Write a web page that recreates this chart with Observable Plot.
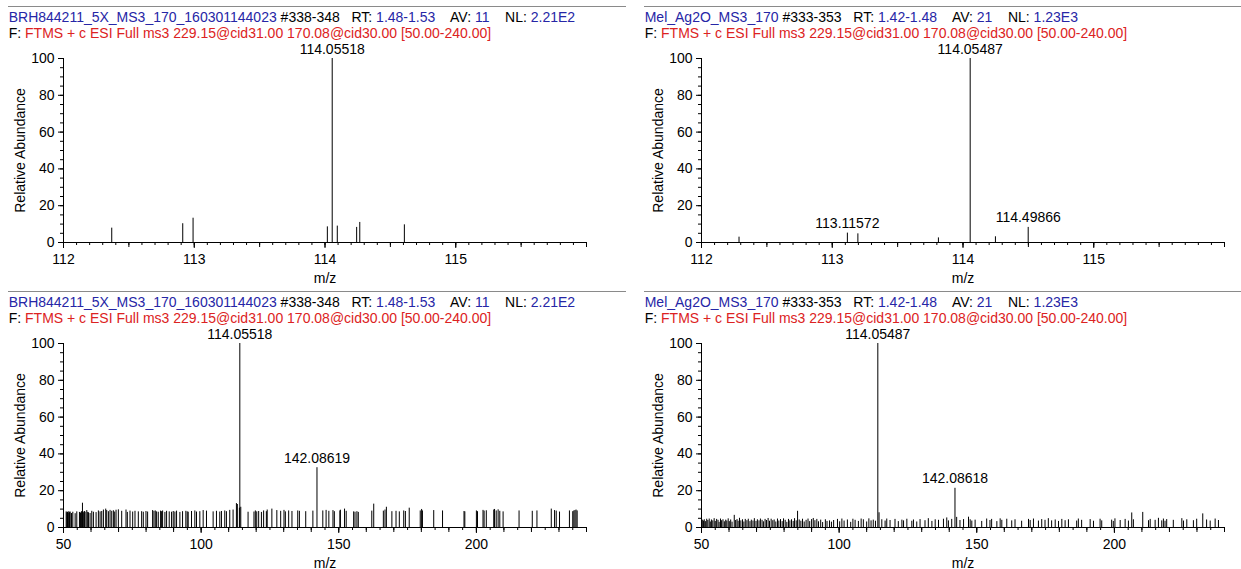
<!DOCTYPE html>
<html><head><meta charset="utf-8">
<script src="https://cdn.jsdelivr.net/npm/d3@7"></script>
<script src="https://cdn.jsdelivr.net/npm/@observablehq/plot@0.6"></script>
<style>
html,body{margin:0;padding:0;background:#fff;}
body{width:1241px;height:569px;overflow:hidden;position:relative;font-family:"Liberation Sans",Arial,sans-serif;}
.sep{position:absolute;height:1px;background:#8a8a8a;}
.hdr{position:absolute;font-size:14px;line-height:16.6px;white-space:pre;color:#000;}
.b{color:#2626a6}.r{color:#dc2222}
.plot{position:absolute;}
</style></head><body>
<script>
// ---------- header texts ----------
const fileNames = ["BRH844211_5X_MS3_170_160301144023", "Mel_Ag2O_MS3_170"];
const scanRanges = ["#338-348", "#333-353"];
const rtRanges = ["1.48-1.53", "1.42-1.48"];
const avCounts = ["11", "21"];
const nlValues = ["2.21E2", "1.23E3"];
const filterText = "FTMS + c ESI Full ms3 229.15@cid31.00 170.08@cid30.00 [50.00-240.00]";

// ---------- axis ticks ----------
const yTicks = [0, 20, 40, 60, 80, 100];
const zoomTicks = [112, 113, 114, 115];
const fullTicks = [50, 100, 150, 200];

// ---------- zoomed spectra (m/z 112-116) ----------
const tlMz = [112.369, 112.912, 112.991, 114.018, 114.05518, 114.094, 114.242, 114.266, 114.607];
const tlAb = [7.8, 10.2, 13.2, 8.5, 100, 8.9, 8.2, 10.9, 9.6];
const tlLabels = [114.05518];

const trMz = [112.287, 113.11572, 113.196, 113.812, 114.05487, 114.248, 114.49866];
const trAb = [2.9, 5.1, 4.7, 2.5, 100, 3.1, 8.2];
const trLabels = [113.11572, 114.05487, 114.49866];

// ---------- full spectra (m/z 50-240) ----------
const blMz = [50.97,51.2,51.45,51.7,51.93,52.2,52.42,52.9,53.38,54.23,54.83,55.8,56.16,56.52,56.89,57.1,57.37,57.6,57.85,58.46,58.8,59.06,59.66,60.27,60.87,61.84,62.68,63.29,63.89,64.5,65.34,65.7,66.31,66.91,67.52,68.12,68.6,69.09,69.93,71.14,72.71,73.19,74.16,75.13,75.97,77.18,78.39,78.99,79.96,80.56,82.37,82.86,83.34,83.82,84.43,85.27,85.64,86.0,86.84,87.45,88.41,89.26,89.86,90.47,91.07,92.28,93.25,94.45,94.94,95.3,96.51,97.72,98.32,99.53,100.74,101.94,104.36,105.57,106.78,107.38,108.59,109.19,110.4,111.61,112.82,113.16,113.9,114.05518,114.4,117.05,119.2,119.7,120.2,120.9,121.9,122.7,123.7,124.0,125.7,127.5,128.9,130.1,130.6,131.8,133.0,135.1,135.7,138.0,140.6,142.08619,144.2,145.4,146.4,147.9,148.4,150.4,150.6,152.1,152.7,155.4,155.9,156.6,157.1,162.0,162.7,166.2,166.8,167.3,169.3,170.8,172.0,173.6,174.2,175.6,179.6,180.1,180.4,184.5,187.7,195.5,195.8,200.0,200.4,202.4,202.8,203.6,206.3,206.6,207.2,207.9,208.5,209.7,215.5,220.3,222.0,227.2,228.4,229.0,230.2,233.8,235.0,235.4,235.8,236.2,236.6];
const blAb = [8.5,8,8.3,7.8,8.6,8.1,8.4,7.6,8.3,7.5,8.5,8.2,7.9,8.6,13.2,8.4,8.0,8.7,8.3,9.2,8.2,8.0,7.6,8.8,8.3,8.1,9.0,8.5,8.7,9.5,10.0,9.2,8.6,9.3,8.8,9.1,8.4,9.4,9.6,8.8,9.5,8.2,8.9,8.4,8.8,8.5,8.6,8.3,8.7,8.4,9.2,8.8,9.0,8.5,8.3,8.9,8.6,9.0,8.2,8.8,8.5,8.3,8.7,8.4,8.9,8.2,8.6,8.8,8.5,8.3,8.7,9.0,8.4,8.6,9.2,8.9,8.5,8.8,8.4,8.7,9.0,8.6,9.3,9.5,13.0,12.5,10.5,100,11.0,8.3,8.4,9.0,8.5,8.7,8.2,9.0,8.6,9.5,10.0,9.2,8.8,9.3,8.5,9.0,8.7,9.0,8.8,8.6,8.9,32.5,9.0,9.3,8.8,9.2,8.6,9.0,9.4,10.0,8.8,8.5,8.3,8.6,8.2,8.9,12.7,8.9,9.5,11.0,8.6,8.8,8.5,9.0,8.7,10.5,9.0,9.8,9.0,9.2,9.0,8.7,8.5,9.0,8.6,9.3,8.9,9.1,9.5,9.8,9.0,9.6,8.8,8.5,9.0,8.8,9.0,10.0,9.2,8.9,8.4,9.0,8.6,9.0,9.2,9.5,9.0];
const blLabels = [114.05518, 142.08619];

const brMz = [50.3,50.7,51.0,51.4,51.9,52.3,52.8,53.2,53.6,54.1,54.6,55.0,55.5,56.0,56.4,56.9,57.3,57.8,58.3,58.8,59.2,59.7,60.1,60.6,61.1,61.9,62.4,62.9,63.3,63.8,64.3,64.9,65.4,65.9,66.5,67.0,67.6,68.1,68.7,69.2,69.8,70.3,70.9,71.4,72.0,72.5,73.1,73.6,74.2,74.7,75.3,75.9,76.4,77.0,77.6,78.1,78.7,79.3,79.8,80.4,81.0,81.6,82.1,82.7,83.3,83.8,84.4,84.9,85.5,86.1,86.7,87.3,88.0,88.7,89.3,90.0,90.6,91.2,91.9,92.5,93.3,94.0,95.0,95.6,96.5,97.2,98.0,99.4,100.2,101.0,101.8,103.0,104.2,105.0,105.8,107.0,108.0,108.8,110.0,110.8,111.6,112.4,113.2,114.05487,114.5,115.5,116.7,117.3,118.5,120.3,121.5,122.8,123.4,124.6,126.4,127.0,128.2,129.4,131.2,132.4,133.7,134.9,136.1,137.9,139.1,139.7,140.9,142.08618,142.7,143.9,145.2,147.0,147.6,148.2,149.4,151.8,153.6,154.8,155.4,157.3,158.5,159.1,160.9,162.7,163.9,166.3,168.8,169.4,170.6,172.4,173.6,174.8,176.0,177.2,178.5,179.7,180.9,182.1,183.3,186.3,186.9,188.1,191.2,192.4,194.8,195.4,199.0,199.6,200.2,202.1,203.9,205.1,206.3,206.9,210.3,212.4,213.0,214.8,216.0,217.2,217.8,218.4,219.0,221.4,224.5,225.1,226.3,228.7,229.9,232.1,233.5,234.8,236.6,237.8];
const brAb = [4,3.5,4.2,3.2,4.5,3.8,4.6,3,4.1,3.6,4.8,3.3,4.4,3.9,2.8,4.6,3.7,4.2,3.1,4.0,3.5,4.7,3.2,4.1,2.9,6.6,3.8,4.3,3.4,5.0,3.6,4.2,3.0,4.4,3.7,4.5,3.2,4.0,3.5,4.8,3.3,4.2,3.6,4.6,3.9,3.1,4.4,3.8,4.9,3.4,4.5,3.7,4.1,3.0,4.6,3.5,4.3,3.2,4.7,3.9,2.8,4.4,3.6,4.2,3.3,4.8,3.6,8.8,4.1,3.4,4.5,3.0,3.9,4.6,3.2,4.3,4.9,3.7,4.4,3.1,4.0,2.7,4.2,3.3,3.6,2.9,3.8,4.4,3.1,4.6,3.5,4.1,2.8,4.5,3.9,3.3,4.6,4.2,3.0,4.7,3.6,4.0,3.4,100,8.0,4.2,3.5,4.6,3.8,4.4,3.2,4.0,3.6,4.5,3.4,4.1,3.0,4.3,3.7,4.8,3.3,4.2,3.9,4.5,5.2,3.6,4.4,21.3,5.5,3.8,4.3,5.6,4.2,3.5,4.0,3.3,4.6,3.8,4.4,3.2,4.7,3.9,4.5,3.6,4.2,3.4,4.4,3.8,4.6,3.5,4.3,3.9,4.8,3.6,4.1,3.3,4.4,3.7,4.2,3.5,4.6,3.9,4.3,3.4,4.5,3.6,4.0,3.3,4.7,3.8,4.4,3.5,7.9,4.2,8.2,3.7,4.4,3.9,5.0,3.6,4.6,3.4,4.3,3.9,4.8,3.5,4.2,3.7,4.5,7.4,4.1,3.5,4.6,3.8];
const brLabels = [114.05487, 142.08618];

// ---------- drawing ----------
const FONT = "'Liberation Sans', Arial, sans-serif";

function header(left, top, i) {
  const sep = document.createElement("div");
  sep.className = "sep";
  sep.style.left = (left + 8) + "px";
  sep.style.top = (top + 6) + "px";
  sep.style.width = "618px";
  document.body.appendChild(sep);
  const h = document.createElement("div");
  h.className = "hdr";
  h.style.left = (left + 8.7) + "px";
  h.style.top = (top + 8.8) + "px";
  h.innerHTML =
    `<span class="b">${fileNames[i]}</span> ${scanRanges[i]}   RT: <span class="b">${rtRanges[i]}</span>    AV: <span class="b">${avCounts[i]}</span>    NL: <span class="b">${nlValues[i]}</span>\n` +
    `F: <span class="r">${filterText}</span>`;
  document.body.appendChild(h);
}

function spectrum(left, top, mz, ab, labels, domain, majors, minorStep, medStep) {
  const data = mz.map((m, k) => ({mz: m, ab: ab[k]}));
  const lab = data.filter(d => labels.includes(d.mz));
  const minors = d3.range(domain[0], domain[1] + minorStep / 2, minorStep);
  const meds = d3.range(domain[0], domain[1] + medStep / 2, medStep);
  const yMinor = d3.range(0, 101, 5);
  const chart = Plot.plot({
    width: 600, height: 243,
    marginLeft: 63, marginRight: 14, marginTop: 18, marginBottom: 41,
    style: {fontFamily: FONT, fontSize: "14px", color: "#000", background: "transparent", overflow: "visible"},
    x: {domain},
    y: {domain: [0, 100]},
    marks: [
      Plot.axisY({ticks: yMinor, tickSize: 3, tickFormat: () => "", label: null}),
      Plot.axisY({ticks: yTicks, tickSize: 5, tickPadding: 4, fontSize: 14,
        label: "Relative Abundance", labelAnchor: "center", labelArrow: "none", labelOffset: 48}),
      Plot.axisX({ticks: minors, tickSize: 3, tickFormat: () => "", label: null}),
      Plot.axisX({ticks: meds, tickSize: 5, tickFormat: () => "", label: null}),
      Plot.axisX({ticks: majors, tickSize: 6, tickPadding: 6, fontSize: 14, tickFormat: d => String(d),
        label: "m/z", labelAnchor: "center", labelArrow: "none", labelOffset: 40}),
      Plot.ruleY([0], {stroke: "#000"}),
      Plot.ruleX([domain[0]], {stroke: "#000"}),
      Plot.ruleX(data, {x: "mz", y1: 0, y2: "ab", stroke: "#000", strokeWidth: 1}),
      Plot.text(lab, {x: "mz", y: "ab", text: d => d.mz.toFixed(5), dy: -5, lineAnchor: "bottom", fontSize: 14, fill: "#000"})
    ]
  });
  chart.classList.add("plot");
  chart.style.left = left + "px";
  chart.style.top = top + "px";
  chart.style.position = "absolute";
  document.body.appendChild(chart);
}

header(0, 0, 0);
header(636, 0, 1);
header(0, 285, 0);
header(636, 285, 1);

spectrum(0.3, 40.3, tlMz, tlAb, tlLabels, [112, 116], zoomTicks, 0.1, 0.5);
spectrum(637.8, 40.3, trMz, trAb, trLabels, [112, 116], zoomTicks, 0.1, 0.5);
spectrum(0.3, 325.3, blMz, blAb, blLabels, [50, 240], fullTicks, 5, 10);
spectrum(637.8, 325.3, brMz, brAb, brLabels, [50, 240], fullTicks, 5, 10);
</script>
</body></html>
